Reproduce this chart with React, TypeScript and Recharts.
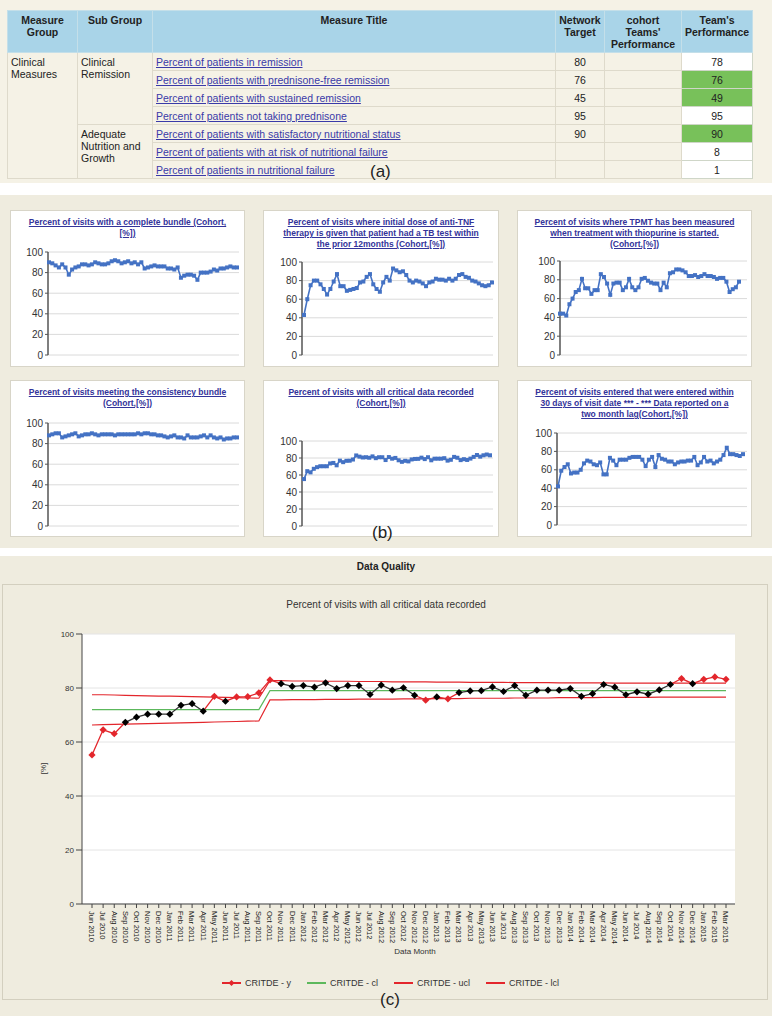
import { CartesianGrid, Line, LineChart, XAxis, YAxis } from "recharts";

const FONT = "'Liberation Sans', Arial, sans-serif";
const NARROW = "'Liberation Sans Narrow', 'Liberation Sans', Arial, sans-serif";
const RED = "#e3262c";
const DARK = "#333";
const BLUE = "#4472c4";

// (a) summary table
const tableHeaders = ["Measure\nGroup", "Sub Group", "Measure Title", "Network\nTarget", "cohort\nTeams'\nPerformance", "Team's\nPerformance"];
const measureTitles = [
	"Percent of patients in remission",
	"Percent of patients with prednisone-free remission",
	"Percent of patients with sustained remission",
	"Percent of patients not taking prednisone",
	"Percent of patients with satisfactory nutritional status",
	"Percent of patients with at risk of nutritional failure",
	"Percent of patients in nutritional failure",
];
const networkTargets = ["80", "76", "45", "95", "90", "", ""];
const teamPerformance = ["78", "76", "49", "95", "90", "8", "1"];
const metTarget = [false, true, true, false, true, false, false];

// shared month axis (Jun 2010 - Mar 2015)
const months = [
	"Jun 2010", "Jul 2010", "Aug 2010", "Sep 2010", "Oct 2010", "Nov 2010", "Dec 2010",
	"Jan 2011", "Feb 2011", "Mar 2011", "Apr 2011", "May 2011", "Jun 2011", "Jul 2011", "Aug 2011", "Sep 2011", "Oct 2011", "Nov 2011", "Dec 2011",
	"Jan 2012", "Feb 2012", "Mar 2012", "Apr 2012", "May 2012", "Jun 2012", "Jul 2012", "Aug 2012", "Sep 2012", "Oct 2012", "Nov 2012", "Dec 2012",
	"Jan 2013", "Feb 2013", "Mar 2013", "Apr 2013", "May 2013", "Jun 2013", "Jul 2013", "Aug 2013", "Sep 2013", "Oct 2013", "Nov 2013", "Dec 2013",
	"Jan 2014", "Feb 2014", "Mar 2014", "Apr 2014", "May 2014", "Jun 2014", "Jul 2014", "Aug 2014", "Sep 2014", "Oct 2014", "Nov 2014", "Dec 2014",
	"Jan 2015", "Feb 2015", "Mar 2015",
];

// (b) cohort series
const bundle = [90, 89, 87, 85, 88, 85, 78, 83, 85, 86, 88, 88, 87, 88, 90, 89, 88, 88, 89, 91, 92, 91, 89, 90, 91, 89, 90, 88, 90, 84, 85, 86, 87, 86, 86, 86, 84, 84, 83, 85, 75, 77, 78, 78, 77, 73, 80, 80, 80, 81, 83, 82, 84, 84, 85, 86, 85, 85];
const antiTnf = [43, 60, 75, 80, 80, 76, 71, 65, 71, 79, 87, 74, 74, 69, 70, 71, 72, 78, 79, 84, 87, 76, 71, 68, 78, 84, 80, 93, 91, 89, 90, 86, 80, 78, 80, 79, 77, 74, 78, 79, 82, 81, 81, 80, 82, 80, 82, 86, 87, 84, 83, 80, 79, 77, 75, 74, 75, 78];
const tpmt = [44, 44, 42, 54, 60, 67, 69, 81, 71, 71, 65, 69, 69, 86, 83, 76, 64, 76, 77, 77, 69, 72, 81, 72, 69, 72, 81, 82, 79, 77, 76, 76, 69, 77, 72, 87, 88, 91, 91, 90, 88, 84, 84, 85, 83, 84, 86, 84, 84, 83, 81, 82, 82, 78, 67, 70, 72, 78];
const consistency = [88, 89, 90, 90, 86, 87, 88, 89, 90, 87, 88, 89, 89, 90, 89, 88, 89, 89, 89, 89, 88, 89, 89, 89, 89, 89, 89, 90, 89, 90, 90, 89, 89, 88, 88, 87, 86, 87, 88, 86, 86, 85, 88, 86, 86, 86, 87, 88, 86, 88, 86, 85, 86, 84, 85, 85, 86, 86];
const thirtyDays = [42, 59, 63, 66, 56, 57, 57, 60, 67, 70, 69, 66, 65, 68, 55, 55, 73, 70, 65, 71, 71, 71, 73, 74, 74, 74, 71, 64, 71, 74, 63, 76, 72, 71, 69, 69, 66, 68, 69, 69, 70, 70, 74, 65, 68, 74, 69, 70, 67, 69, 71, 76, 84, 77, 77, 76, 75, 77];

// (c) control chart: CRITDE
const critValues = [55.2, 64.5, 63.1, 67.3, 69.2, 70.3, 70.3, 70.3, 73.6, 74.2, 71.4, 76.9, 75.1, 76.7, 76.8, 78.2, 83.0, 81.6, 80.6, 80.9, 80.3, 81.9, 79.8, 80.9, 80.9, 77.6, 81.1, 79.2, 80.1, 77.3, 75.5, 76.7, 76.0, 78.3, 78.9, 79.0, 80.4, 78.7, 80.9, 77.3, 79.2, 79.2, 79.2, 79.8, 76.9, 77.9, 81.3, 80.3, 77.5, 78.6, 77.7, 79.3, 81.3, 83.5, 81.6, 83.2, 84.1, 83.2];
const clValues = [72, 72, 72, 72, 72, 72, 72, 72, 72, 72, 72, 72, 72, 72, 72, 72, 79, 79, 79, 79, 79, 79, 79, 79, 79, 79, 79, 79, 79, 79, 79, 79, 79, 79, 79, 79, 79, 79, 79, 79, 79, 79, 79, 79, 79, 79, 79, 79, 79, 79, 79, 79, 79, 79, 79, 79, 79, 79];
const uclValues = [77.5, 77.5, 77.4, 77.3, 77.2, 77.1, 77.0, 77.0, 76.9, 76.8, 76.7, 76.6, 76.5, 76.4, 76.3, 76.2, 82.7, 82.7, 82.6, 82.6, 82.6, 82.5, 82.5, 82.5, 82.4, 82.4, 82.4, 82.3, 82.3, 82.3, 82.3, 82.2, 82.2, 82.2, 82.1, 82.1, 82.1, 82.1, 82.0, 82.0, 82.0, 82.0, 81.9, 81.9, 81.9, 81.9, 81.9, 81.8, 81.8, 81.8, 81.8, 81.8, 81.8, 81.8, 81.8, 81.8, 81.8, 81.8];
const lclValues = [66.3, 66.4, 66.5, 66.6, 66.7, 66.8, 66.9, 67.0, 67.1, 67.2, 67.3, 67.4, 67.5, 67.6, 67.7, 67.8, 75.6, 75.6, 75.7, 75.7, 75.7, 75.8, 75.8, 75.8, 75.9, 75.9, 75.9, 75.9, 76.0, 76.0, 76.0, 76.1, 76.1, 76.1, 76.2, 76.2, 76.2, 76.2, 76.3, 76.3, 76.3, 76.3, 76.4, 76.4, 76.4, 76.4, 76.5, 76.5, 76.5, 76.5, 76.5, 76.6, 76.6, 76.6, 76.6, 76.6, 76.6, 76.6];
const legendItems = [
	{ name: "CRITDE - y", color: RED, marker: true },
	{ name: "CRITDE - cl", color: "#5cb85c", marker: false },
	{ name: "CRITDE - ucl", color: RED, marker: false },
	{ name: "CRITDE - lcl", color: RED, marker: false },
];

const pctTicks = [0, 20, 40, 60, 80, 100];

function TableSection() {
	const colWidths = [70, 75, 403, 49, 77, 71];
	const cell = { border: "1px solid #dedacb", padding: "0 3px", lineHeight: "12px" };
	return (
		<div style={{ position: "absolute", left: 0, top: 0, width: 772, height: 183, background: "#f5f2e6" }}>
			<table style={{ position: "absolute", left: 7, top: 10, width: 745, borderCollapse: "collapse", tableLayout: "fixed", fontFamily: NARROW, fontSize: 10.5, color: "#222" }}>
				<colgroup>
					{colWidths.map((w, i) => <col key={i} style={{ width: w }} />)}
				</colgroup>
				<thead>
					<tr style={{ height: 42, background: "#a9d4e8" }}>
						{tableHeaders.map((h) => (
							<th key={h} style={{ ...cell, verticalAlign: "top", paddingTop: 3, whiteSpace: "pre-line", fontWeight: "bold", textAlign: "center", borderColor: "#c4dfe9" }}>{h}</th>
						))}
					</tr>
				</thead>
				<tbody>
					{measureTitles.map((t, i) => (
						<tr key={t} style={{ height: 18 }}>
							{i === 0 && <td rowSpan={7} style={{ ...cell, verticalAlign: "top", paddingTop: 3, whiteSpace: "pre-line" }}>{"Clinical\nMeasures"}</td>}
							{i === 0 && <td rowSpan={4} style={{ ...cell, verticalAlign: "top", paddingTop: 3, whiteSpace: "pre-line" }}>{"Clinical\nRemission"}</td>}
							{i === 4 && <td rowSpan={3} style={{ ...cell, verticalAlign: "top", paddingTop: 3, whiteSpace: "pre-line" }}>{"Adequate\nNutrition and\nGrowth"}</td>}
							<td style={{ ...cell, color: "#3a3aa8", textDecoration: "underline" }}>{t}</td>
							<td style={{ ...cell, textAlign: "center" }}>{networkTargets[i]}</td>
							<td style={cell}></td>
							<td style={{ ...cell, textAlign: "center", background: metTarget[i] ? "#78c15a" : "#fff", borderColor: "#cfd6c8" }}>{teamPerformance[i]}</td>
						</tr>
					))}
				</tbody>
			</table>
			<div style={{ position: "absolute", left: 370, top: 162, fontSize: 17, color: "#222" }}>(a)</div>
		</div>
	);
}

function SquareDot(props: any) {
	const { cx, cy, index } = props;
	if (cx == null || cy == null) return null;
	return <rect key={index} x={cx - 2} y={cy - 2} width={4} height={4} fill={BLUE} />;
}

type MiniProps = {
	title: string[];
	values: number[];
	left: number;
	top: number;
	width: number;
	plotTop: number;
	plotBottom: number;
	axisX: number;
	plotRight: number;
	padL: number;
	padR: number;
};

function MiniChart(p: MiniProps) {
	const h = 157;
	const data = months.map((m, i) => ({ m, v: p.values[i] }));
	return (
		<div style={{ position: "absolute", left: p.left, top: p.top, width: p.width, height: h, background: "#fff", border: "1px solid #d8d5c8", boxSizing: "border-box" }}>
			<div style={{ position: "absolute", top: 6, left: 0, width: "100%", textAlign: "center", fontSize: 8.5, fontWeight: "bold", lineHeight: "11px", color: "#33339a", textDecoration: "underline" }}>
				{p.title.map((t) => <div key={t}>{t}</div>)}
			</div>
			<div style={{ position: "absolute", left: -1, top: -1 }}>
				<LineChart width={p.width} height={h} data={data} margin={{ top: p.plotTop, right: p.width - p.plotRight, bottom: h - p.plotBottom, left: 0 }}>
					<CartesianGrid vertical={false} stroke="#dadada" />
					<XAxis dataKey="m" hide padding={{ left: p.padL, right: p.padR }} />
					<YAxis width={p.axisX} domain={[0, 100]} ticks={pctTicks} interval={0} tick={{ fontSize: 10, fill: "#333" }} axisLine={{ stroke: "#555", strokeWidth: 1.5 }} tickLine={{ stroke: "#555" }} tickSize={3} />
					<Line dataKey="v" stroke={BLUE} strokeWidth={1.6} dot={SquareDot} isAnimationActive={false} />
				</LineChart>
			</div>
		</div>
	);
}

function MiniSection() {
	return (
		<div style={{ position: "absolute", left: 0, top: 195, width: 772, height: 353, background: "#efecdf" }}>
			<div style={{ position: "absolute", left: 0, top: -195 }}>
				<MiniChart title={["Percent of visits with a complete bundle (Cohort,", "[%])"]} values={bundle} left={10} top={210} width={235} plotTop={42} plotBottom={145} axisX={38} plotRight={229} padL={1} padR={2} />
				<MiniChart title={["Percent of visits where initial dose of anti-TNF", "therapy is given that patient had a TB test within", "the prior 12months (Cohort,[%])"]} values={antiTnf} left={263} top={210} width={236} plotTop={52} plotBottom={145} axisX={39} plotRight={230} padL={2} padR={1} />
				<MiniChart title={["Percent of visits where TPMT has been measured", "when treatment with thiopurine is started.", "(Cohort,[%])"]} values={tpmt} left={517} top={210} width={235} plotTop={51} plotBottom={145} axisX={43} plotRight={230} padL={0} padR={8} />
				<MiniChart title={["Percent of visits meeting the consistency bundle", "(Cohort,[%])"]} values={consistency} left={10} top={380} width={235} plotTop={43} plotBottom={146} axisX={38} plotRight={229} padL={1} padR={2} />
				<MiniChart title={["Percent of visits with all critical data recorded", "(Cohort,[%])"]} values={critValues} left={263} top={380} width={236} plotTop={61} plotBottom={146} axisX={39} plotRight={230} padL={2} padR={3} />
				<MiniChart title={["Percent of visits entered that were entered within", "30 days of visit date *** - *** Data reported on a", "two month lag(Cohort,[%])"]} values={thirtyDays} left={517} top={380} width={235} plotTop={53} plotBottom={145} axisX={40} plotRight={230} padL={1} padR={4} />
			</div>
			<div style={{ position: "absolute", left: 372, top: 328, fontSize: 17, color: "#222" }}>(b)</div>
		</div>
	);
}

function MonthTick(props: any) {
	const { x, y, payload } = props;
	return (
		<text x={x} y={y} dx={1} dy="0.35em" transform={`rotate(90 ${x} ${y})`} textAnchor="start" fontSize={7.5} fill="#222" fontFamily={NARROW}>
			{payload.value}
		</text>
	);
}

function ControlChart() {
	const data = months.map((m, i) => ({ m, y: critValues[i], cl: clValues[i], ucl: uclValues[i], lcl: lclValues[i] }));
	const out = data.map((d) => d.y > d.ucl || d.y < d.lcl);
	const n = data.length;
	const stops: any[] = [];
	for (let k = 0; k < n - 1; k++) {
		const c = out[k] || out[k + 1] ? RED : DARK;
		stops.push(<stop key={`a${k}`} offset={k / (n - 1)} stopColor={c} />);
		stops.push(<stop key={`b${k}`} offset={(k + 1) / (n - 1)} stopColor={c} />);
	}
	const diamond = (props: any) => {
		const { cx, cy, index } = props;
		if (cx == null || cy == null) return <g key={index} />;
		const r = 3.6;
		return <path key={index} d={`M${cx},${cy - r}L${cx + r},${cy}L${cx},${cy + r}L${cx - r},${cy}Z`} fill={out[index] ? RED : "#000"} />;
	};
	return (
		<div style={{ position: "absolute", left: 0, top: 556, width: 772, height: 460, background: "#efecdf" }}>
			<div style={{ position: "absolute", left: 0, top: 5, width: 772, textAlign: "center", fontFamily: NARROW, fontSize: 10, fontWeight: "bold", color: "#222" }}>Data Quality</div>
			<div style={{ position: "absolute", left: 2, top: 28, width: 766, height: 416, border: "1px solid #d3cfbf", boxSizing: "border-box" }} />
			<div style={{ position: "absolute", left: 0, top: 43, width: 772, textAlign: "center", fontFamily: NARROW, fontSize: 10, color: "#333" }}>Percent of visits with all critical data recorded</div>
			<div style={{ position: "absolute", left: 38, top: 208, fontFamily: NARROW, fontSize: 8, color: "#333", transform: "rotate(-90deg)" }}>[%]</div>
			<div style={{ position: "absolute", left: 0, top: 34 }}>
				<LineChart width={772} height={420} data={data} margin={{ top: 44, right: 37, bottom: 56, left: 32 }}>
					<defs>
						<linearGradient id="critSeg" x1="0" y1="0" x2="1" y2="0">
							{stops}
						</linearGradient>
					</defs>
					<CartesianGrid vertical={false} stroke="#e4e4e4" fill="#fff" fillOpacity={1} />
					<XAxis dataKey="m" interval={0} height={50} tick={<MonthTick />} padding={{ left: 10, right: 9 }} axisLine={{ stroke: "#444" }} tickLine={{ stroke: "#444" }} tickSize={4} />
					<YAxis width={50} domain={[0, 100]} ticks={pctTicks} interval={0} tick={{ fontSize: 8, fill: "#333", fontFamily: NARROW }} axisLine={{ stroke: "#444" }} tickLine={{ stroke: "#444" }} tickSize={6} />
					<Line dataKey="ucl" stroke={RED} strokeWidth={1.2} dot={false} isAnimationActive={false} />
					<Line dataKey="lcl" stroke={RED} strokeWidth={1.2} dot={false} isAnimationActive={false} />
					<Line dataKey="cl" stroke="#5cb85c" strokeWidth={1.2} dot={false} isAnimationActive={false} />
					<Line dataKey="y" stroke="url(#critSeg)" strokeWidth={1.3} dot={diamond} isAnimationActive={false} />
				</LineChart>
			</div>
			<div style={{ position: "absolute", left: 0, top: 391, width: 830, textAlign: "center", fontFamily: NARROW, fontSize: 8, color: "#333" }}>Data Month</div>
			<div style={{ position: "absolute", left: 222, top: 422, display: "flex", gap: 16, fontFamily: NARROW, fontSize: 9, color: "#333", alignItems: "center" }}>
				{legendItems.map((it) => (
					<div key={it.name} style={{ display: "flex", alignItems: "center", gap: 4 }}>
						<svg width={19} height={8}>
							<line x1={0} y1={4} x2={19} y2={4} stroke={it.color} strokeWidth={2} />
							{it.marker && <path d="M9.5,1L12.5,4L9.5,7L6.5,4Z" fill={it.color} />}
						</svg>
						<span>{it.name}</span>
					</div>
				))}
			</div>
			<div style={{ position: "absolute", left: 380, top: 434, fontSize: 17, color: "#222" }}>(c)</div>
		</div>
	);
}

export default function App() {
	return (
		<div style={{ position: "absolute", left: 0, top: 0, width: 772, height: 1026, background: "#fff", fontFamily: FONT, overflow: "hidden" }}>
			<TableSection />
			<MiniSection />
			<ControlChart />
		</div>
	);
}
